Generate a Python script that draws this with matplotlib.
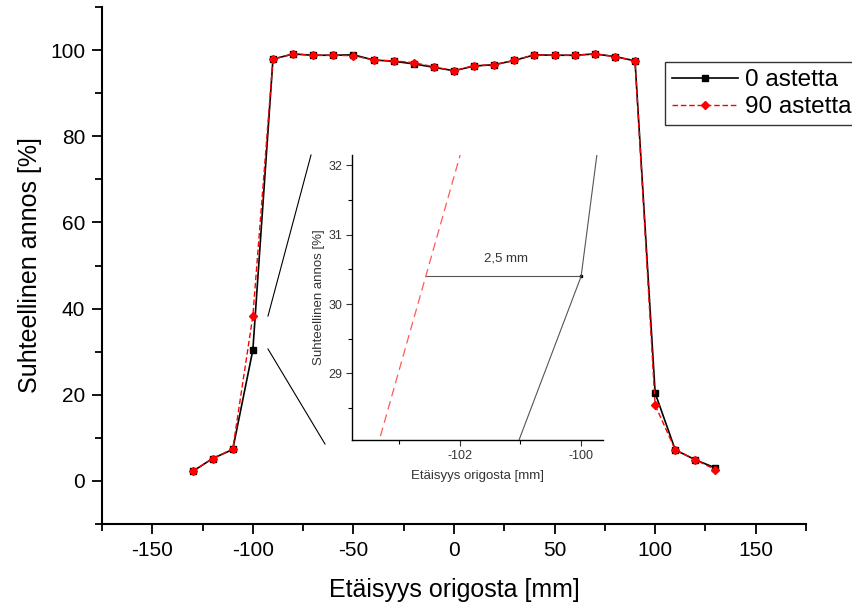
import numpy as np
import matplotlib
matplotlib.use("Agg")
import matplotlib.pyplot as plt
from matplotlib.lines import Line2D
from matplotlib.ticker import MultipleLocator

plt.rcParams['font.family'] = ['Liberation Sans', 'DejaVu Sans']
plt.rcParams['axes.unicode_minus'] = False

# ---- data ----
distance_mm = [-130, -120, -110, -100, -90, -80, -70, -60, -50, -40, -30, -20, -10, 0,
               10, 20, 30, 40, 50, 60, 70, 80, 90, 100, 110, 120, 130]
dose_0deg = [2.2, 5.2, 7.3, 30.4, 97.9, 99.1, 98.8, 98.8, 98.9, 97.7, 97.4, 96.8, 96.0, 95.2,
             96.3, 96.6, 97.6, 98.9, 98.8, 98.8, 99.1, 98.5, 97.5, 20.4, 7.2, 4.9, 3.0]
dose_90deg = [2.2, 5.2, 7.4, 38.3, 97.9, 99.1, 98.8, 98.8, 98.7, 97.7, 97.5, 97.1, 96.1, 95.2,
              96.4, 96.6, 97.6, 98.9, 98.8, 98.8, 99.1, 98.5, 97.5, 17.6, 7.2, 4.9, 2.6]
series_labels = ["0 astetta", "90 astetta"]
xlabel = "Etäisyys origosta [mm]"
ylabel = "Suhteellinen annos [%]"
gap_label = "2,5 mm"

W, H = 853, 607
fig = plt.figure(figsize=(W / 100, H / 100), dpi=100)

def fx(px):
    return px / W

def fy(py):
    return 1 - py / H

# main axes: pixel box left 102, right 806, top 7, bottom 524
ax = fig.add_axes([fx(102), fy(524), fx(806 - 102), (524 - 7) / H])
ax.plot(distance_mm, dose_0deg, color='black', lw=1.2, marker='s', ms=5,
        mfc='black', mec='black', label=series_labels[0], zorder=3)
ax.plot(distance_mm, dose_90deg, color='red', lw=1.0, ls=(0, (4, 2)), marker='D', ms=4.5,
        mfc='red', mec='red', label=series_labels[1], zorder=4)
ax.set_xlim(-175, 175)
ax.set_ylim(-10, 110)
ax.xaxis.set_major_locator(MultipleLocator(50))
ax.xaxis.set_minor_locator(MultipleLocator(25))
ax.yaxis.set_major_locator(MultipleLocator(20))
ax.yaxis.set_minor_locator(MultipleLocator(10))
for s in ['top', 'right']:
    ax.spines[s].set_visible(False)
for s in ['left', 'bottom']:
    ax.spines[s].set_linewidth(1.5)
ax.tick_params(which='major', direction='out', length=7, width=1.3, labelsize=15, pad=5)
ax.tick_params(which='minor', direction='out', length=5, width=1.3)
ax.set_xlabel(xlabel, fontsize=18, labelpad=13)
ax.set_ylabel(ylabel, fontsize=18, labelpad=6)

leg = fig.legend(loc='upper left', bbox_to_anchor=(fx(665), fy(62)), fontsize=17.5,
                 frameon=True, fancybox=False, edgecolor='black', handlelength=2.7,
                 borderpad=0.3, labelspacing=0.2, handletextpad=0.3, borderaxespad=0)
leg.get_frame().set_linewidth(1.0)

# zoom connector lines
fig.add_artist(Line2D([fx(268), fx(311)], [fy(316), fy(155)], transform=fig.transFigure,
                      color='black', lw=0.8))
fig.add_artist(Line2D([fx(268), fx(325)], [fy(349), fy(444)], transform=fig.transFigure,
                      color='black', lw=0.8))

# inset: pixel box left 352, right 603, top 155, bottom 440
axi = fig.add_axes([fx(352), fy(440), fx(603 - 352), (440 - 155) / H])
axi.plot(distance_mm, dose_0deg, color='#555555', lw=0.8, zorder=3)
axi.plot(distance_mm, dose_90deg, color='#ff5a5a', lw=0.9, ls=(0, (7, 4)), zorder=3)
i100 = distance_mm.index(-100)
y_ref = dose_0deg[i100]
x_cross = np.interp(y_ref, [dose_90deg[i100 - 1], dose_90deg[i100]],
                    [distance_mm[i100 - 1], distance_mm[i100]])
axi.plot([x_cross, distance_mm[i100]], [y_ref, y_ref], color='#555555', lw=0.8)
axi.plot([distance_mm[i100]], [y_ref], marker='s', ms=2, color='black', ls='none')
axi.text((x_cross + distance_mm[i100]) / 2 + 0.05, y_ref + 0.17, gap_label, ha='center',
         va='bottom', fontsize=9.5, color='#333333')
axi.set_xlim(-103.77, -99.64)
axi.set_ylim(28.04, 32.15)
axi.xaxis.set_major_locator(MultipleLocator(2))
axi.xaxis.set_minor_locator(MultipleLocator(1))
axi.yaxis.set_major_locator(MultipleLocator(1))
axi.yaxis.set_minor_locator(MultipleLocator(0.5))
for s in ['top', 'right']:
    axi.spines[s].set_visible(False)
for s in ['left', 'bottom']:
    axi.spines[s].set_linewidth(1.0)
axi.tick_params(which='major', direction='out', length=4, width=0.8, labelsize=9,
                colors='#333333', pad=3)
axi.tick_params(which='minor', direction='out', length=3, width=0.8)
axi.set_xlabel(xlabel, fontsize=9.5, color='#333333', labelpad=6)
axi.set_ylabel(ylabel, fontsize=9.5, color='#333333', labelpad=2)
axi.patch.set_alpha(0)

fig.savefig("out.png", dpi=100)
